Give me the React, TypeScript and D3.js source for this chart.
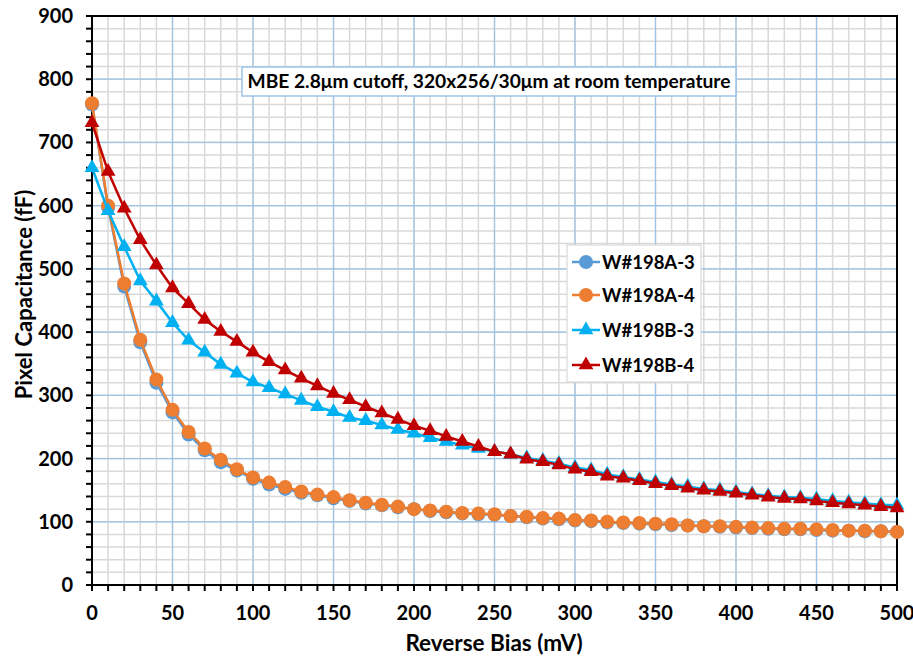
import React from "react";
import * as d3 from "d3";

const biasMV = d3.range(0, 501, 10);

const w198A3 = [760, 597, 472, 384, 320, 273, 238, 213, 194, 181, 168, 159, 152, 146, 142, 137, 133, 129, 126, 123, 120, 117, 115, 113, 112, 111, 109, 107, 105, 104, 102, 101, 99, 98, 97, 96, 95, 94, 93, 92, 91, 90, 89, 88, 88, 87, 86, 86, 85, 85, 84];
const w198A4 = [762, 600, 477, 388, 325, 277, 242, 216, 198, 183, 170, 162, 155, 148, 143, 139, 134, 130, 127, 124, 120, 118, 116, 114, 113, 112, 109, 108, 106, 105, 103, 102, 100, 99, 98, 97, 96, 94, 93, 93, 92, 91, 90, 89, 89, 88, 87, 86, 86, 85, 84];
const w198B3 = [660, 592, 535, 481, 449, 415, 387, 368, 349, 335, 321, 312, 302, 292, 282, 274, 265, 260, 253, 246, 240, 233, 227, 221, 216, 211, 207, 201, 197, 192, 186, 182, 175, 171, 167, 163, 159, 156, 152, 150, 147, 144, 141, 139, 138, 136, 133, 131, 129, 127, 126];
const w198B4 = [731, 654, 596, 546, 506, 470, 445, 420, 401, 385, 368, 353, 340, 327, 315, 303, 293, 282, 272, 262, 252, 244, 235, 227, 219, 211, 207, 199, 195, 190, 183, 179, 172, 169, 165, 160, 157, 153, 150, 148, 145, 142, 139, 137, 136, 133, 130, 128, 126, 124, 122];

const seriesNames = ["W#198A-3", "W#198A-4", "W#198B-3", "W#198B-4"];
const seriesColors = ["#5B9BD5", "#ED7D31", "#00B0F0", "#C00000"];
const seriesShapes = ["circle", "circle", "triangle", "triangle"];
const seriesValues = [w198A3, w198A4, w198B3, w198B4];

const xTicks = d3.range(0, 501, 50);
const yTicks = d3.range(0, 901, 100);

const annotation = "MBE 2.8\u03BCm cutoff, 320x256/30\u03BCm at room temperature";
const xTitle = "Reverse Bias (mV)";
const yTitle = "Pixel Capacitance (fF)";

const W = 913, H = 657;
const L = 92, R = 897, T = 16, B = 585;
const FONT = "Lato, 'Open Sans', sans-serif";

function Marker({ shape, x, y, color }: { shape: string; x: number; y: number; color: string }) {
  if (shape === "circle") return <circle cx={x} cy={y} r={7} fill={color} />;
  const sym = d3.symbol().type(d3.symbolTriangle).size(95)();
  return <path d={sym || ""} transform={`translate(${x},${y})`} fill={color} />;
}

export default function App() {
  const x = d3.scaleLinear().domain([0, 500]).range([L, R]);
  const y = d3.scaleLinear().domain([0, 900]).range([B, T]);
  const minorX = d3.range(0, 501, 10);
  const minorY = d3.range(0, 901, 20);
  const line = d3.line<number>().x((_, i) => x(biasMV[i])).y((d) => y(d));

  const legX = 567, legY = 245, legW = 134, legH = 137;
  const legRows = [262, 295, 330, 365];

  return (
    <svg width={W} height={H} style={{ position: "absolute", left: 0, top: 0, background: "#fff" }} fontFamily={FONT}>
      <rect x={0} y={0} width={W} height={H} fill="#fff" />
      {minorX.map((v) => (
        <line key={"mx" + v} x1={x(v)} x2={x(v)} y1={T} y2={B} stroke="#d9d9d9" strokeWidth={1.5} />
      ))}
      {minorY.map((v) => (
        <line key={"my" + v} x1={L} x2={R} y1={y(v)} y2={y(v)} stroke="#d9d9d9" strokeWidth={1.5} />
      ))}
      {xTicks.map((v) => (
        <line key={"gx" + v} x1={x(v)} x2={x(v)} y1={T} y2={B} stroke="#9DC3E6" strokeWidth={1.2} />
      ))}
      {yTicks.map((v) => (
        <line key={"gy" + v} x1={L} x2={R} y1={y(v)} y2={y(v)} stroke="#9DC3E6" strokeWidth={1.2} />
      ))}
      <rect x={L} y={T} width={R - L} height={B - T} fill="none" stroke="#000" strokeWidth={2} />
      {minorX.map((v) => (
        <line key={"tx" + v} x1={x(v)} x2={x(v)} y1={B} y2={B + 6} stroke="#000" strokeWidth={2} />
      ))}
      {minorY.map((v) => (
        <line key={"ty" + v} x1={L - 6} x2={L} y1={y(v)} y2={y(v)} stroke="#000" strokeWidth={2} />
      ))}
      {xTicks.map((v) => (
        <text key={"lx" + v} x={x(v)} y={620} textAnchor="middle" fontSize={20} fontWeight="bold" fill="#000">{v}</text>
      ))}
      {yTicks.map((v) => (
        <text key={"ly" + v} x={73} y={y(v) + 7} textAnchor="end" fontSize={20} fontWeight="bold" fill="#000">{v}</text>
      ))}
      <text x={494} y={651} textAnchor="middle" fontSize={22.5} fontWeight="bold" fill="#000">{xTitle}</text>
      <text transform={`translate(32,${(T + B) / 2 - 6}) rotate(-90)`} textAnchor="middle" fontSize={22} fontWeight="bold" fill="#000">{yTitle}</text>

      {seriesValues.map((vals, si) => (
        <g key={"s" + si}>
          <path d={line(vals) || ""} fill="none" stroke={seriesColors[si]} strokeWidth={2.5} />
          {vals.map((v, i) => (
            <Marker key={i} shape={seriesShapes[si]} x={x(biasMV[i])} y={y(v)} color={seriesColors[si]} />
          ))}
        </g>
      ))}

      <rect x={242} y={67} width={494} height={29} fill="#fff" stroke="#9DC3E6" strokeWidth={1.5} />
      <text x={489} y={88} textAnchor="middle" fontSize={19.2} fontWeight="bold" fill="#000">{annotation}</text>

      <rect x={legX} y={legY} width={legW} height={legH} fill="#fff" stroke="#d9d9d9" strokeWidth={1.2} />
      {seriesNames.map((n, i) => (
        <g key={"lg" + i}>
          <line x1={572} x2={600} y1={legRows[i]} y2={legRows[i]} stroke={seriesColors[i]} strokeWidth={2.5} />
          <Marker shape={seriesShapes[i]} x={586} y={legRows[i]} color={seriesColors[i]} />
          <text x={602} y={legRows[i] + 7} fontSize={18.5} fontWeight="bold" fill="#000">{n}</text>
        </g>
      ))}
    </svg>
  );
}
